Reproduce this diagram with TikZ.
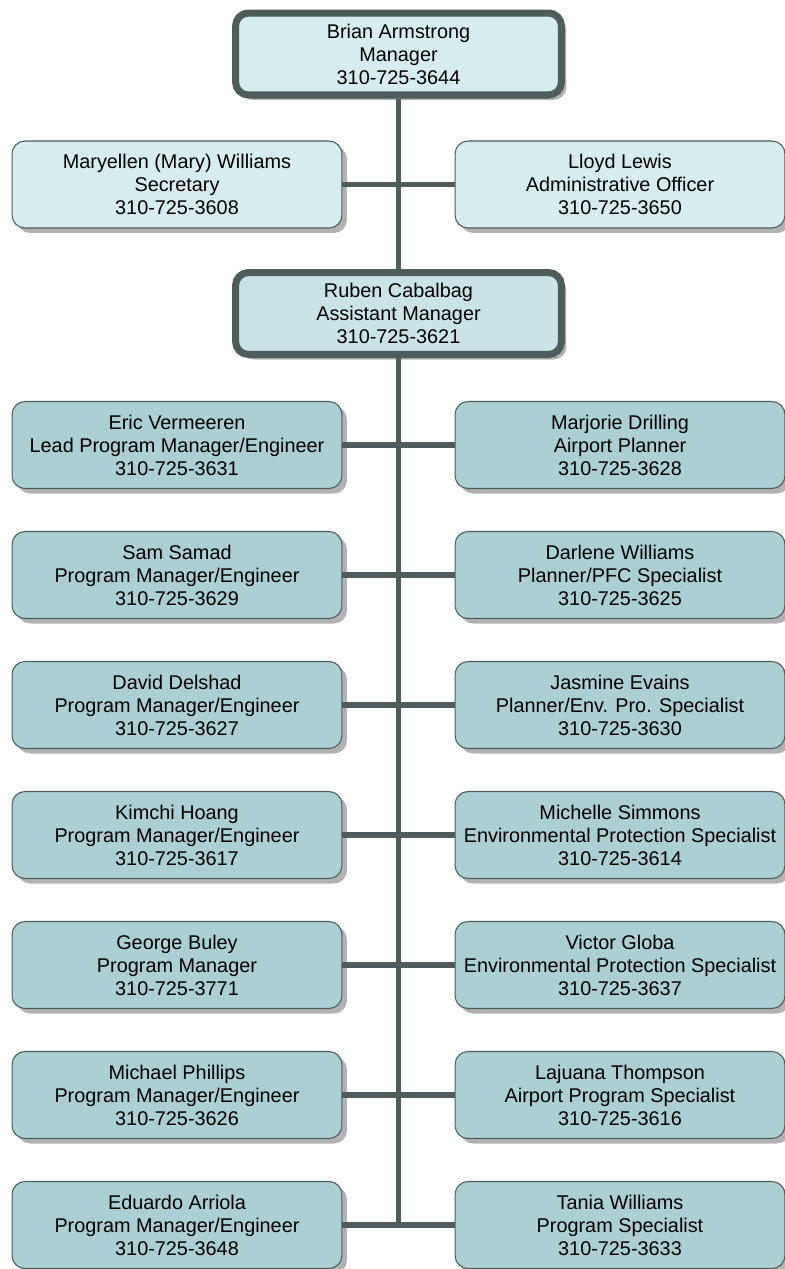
\documentclass[tikz,border=0pt]{standalone}
\usepackage{fontspec}
\setmainfont{Liberation Sans}
\usetikzlibrary{shadows}

\definecolor{boxlight}{HTML}{D7ECEF}
\definecolor{boxmid}{HTML}{ABCFD2}
\definecolor{linegray}{HTML}{4E5C5C}

\tikzset{
  person/.style={draw=linegray, line width=0.6pt, rounded corners=0.26cm,
    minimum width=6.6cm, minimum height=1.74cm, align=center,
    font=\fontsize{11.3}{13.1}\selectfont, inner sep=0pt,
    drop shadow={shadow xshift=0.1cm, shadow yshift=-0.1cm, fill=black!30, opacity=1}},
  staff/.style={person, fill=boxmid},
  aide/.style={person, fill=boxlight},
  boss/.style={person, line width=4pt, minimum width=6.52cm, minimum height=1.64cm},
  link/.style={draw=linegray, line width=3.4pt}
}

\begin{document}
\begin{tikzpicture}[x=0.02cm,y=-0.02cm]
\useasboundingbox (0,0) rectangle (785,1269);

% managers
\node[boss, fill=boxlight] (brian) at (398.5,54) {Brian Armstrong\\Manager\\310-725-3644};
\node[boss, fill=boxlight!70!boxmid] (ruben) at (398.5,313.5) {Ruben Cabalbag\\Assistant Manager\\310-725-3621};

% support staff
\node[aide] (mary) at (177,184.5) {Maryellen (Mary) Williams\\Secretary\\310-725-3608};
\node[aide] (lloyd) at (620,184.5) {Lloyd Lewis\\Administrative Officer\\310-725-3650};

% left column
\node[staff] (eric) at (177,445) {Eric Vermeeren\\Lead Program Manager/Engineer\\310-725-3631};
\node[staff] (sam) at (177,575) {Sam Samad\\Program Manager/Engineer\\310-725-3629};
\node[staff] (david) at (177,705) {David Delshad\\Program Manager/Engineer\\310-725-3627};
\node[staff] (kimchi) at (177,835) {Kimchi Hoang\\Program Manager/Engineer\\310-725-3617};
\node[staff] (george) at (177,965) {George Buley\\Program Manager\\310-725-3771};
\node[staff] (michael) at (177,1095) {Michael Phillips\\Program Manager/Engineer\\310-725-3626};
\node[staff] (eduardo) at (177,1225) {Eduardo Arriola\\Program Manager/Engineer\\310-725-3648};

% right column
\node[staff] (marjorie) at (620,445) {Marjorie Drilling\\Airport Planner\\310-725-3628};
\node[staff] (darlene) at (620,575) {Darlene Williams\\Planner/PFC Specialist\\310-725-3625};
\node[staff] (jasmine) at (620,705) {Jasmine Evains\\Planner/Env. Pro. Specialist\\310-725-3630};
\node[staff] (michelle) at (620,835) {Michelle Simmons\\Environmental Protection Specialist\\310-725-3614};
\node[staff] (victor) at (620,965) {Victor Globa\\Environmental Protection Specialist\\310-725-3637};
\node[staff] (lajuana) at (620,1095) {Lajuana Thompson\\Airport Program Specialist\\310-725-3616};
\node[staff] (tania) at (620,1225) {Tania Williams\\Program Specialist\\310-725-3633};

% connectors
\coordinate (trunkend) at (ruben.south |- eduardo.east);
\draw[link] (brian.south) -- (ruben.north);
\draw[link] (ruben.south) -- (trunkend);
\draw[link] (mary.east) -- (lloyd.west);
\foreach \a/\b in {eric/marjorie, sam/darlene, david/jasmine, kimchi/michelle,
                   george/victor, michael/lajuana, eduardo/tania}
  \draw[link] (\a.east) -- (\b.west);
\end{tikzpicture}
\end{document}
